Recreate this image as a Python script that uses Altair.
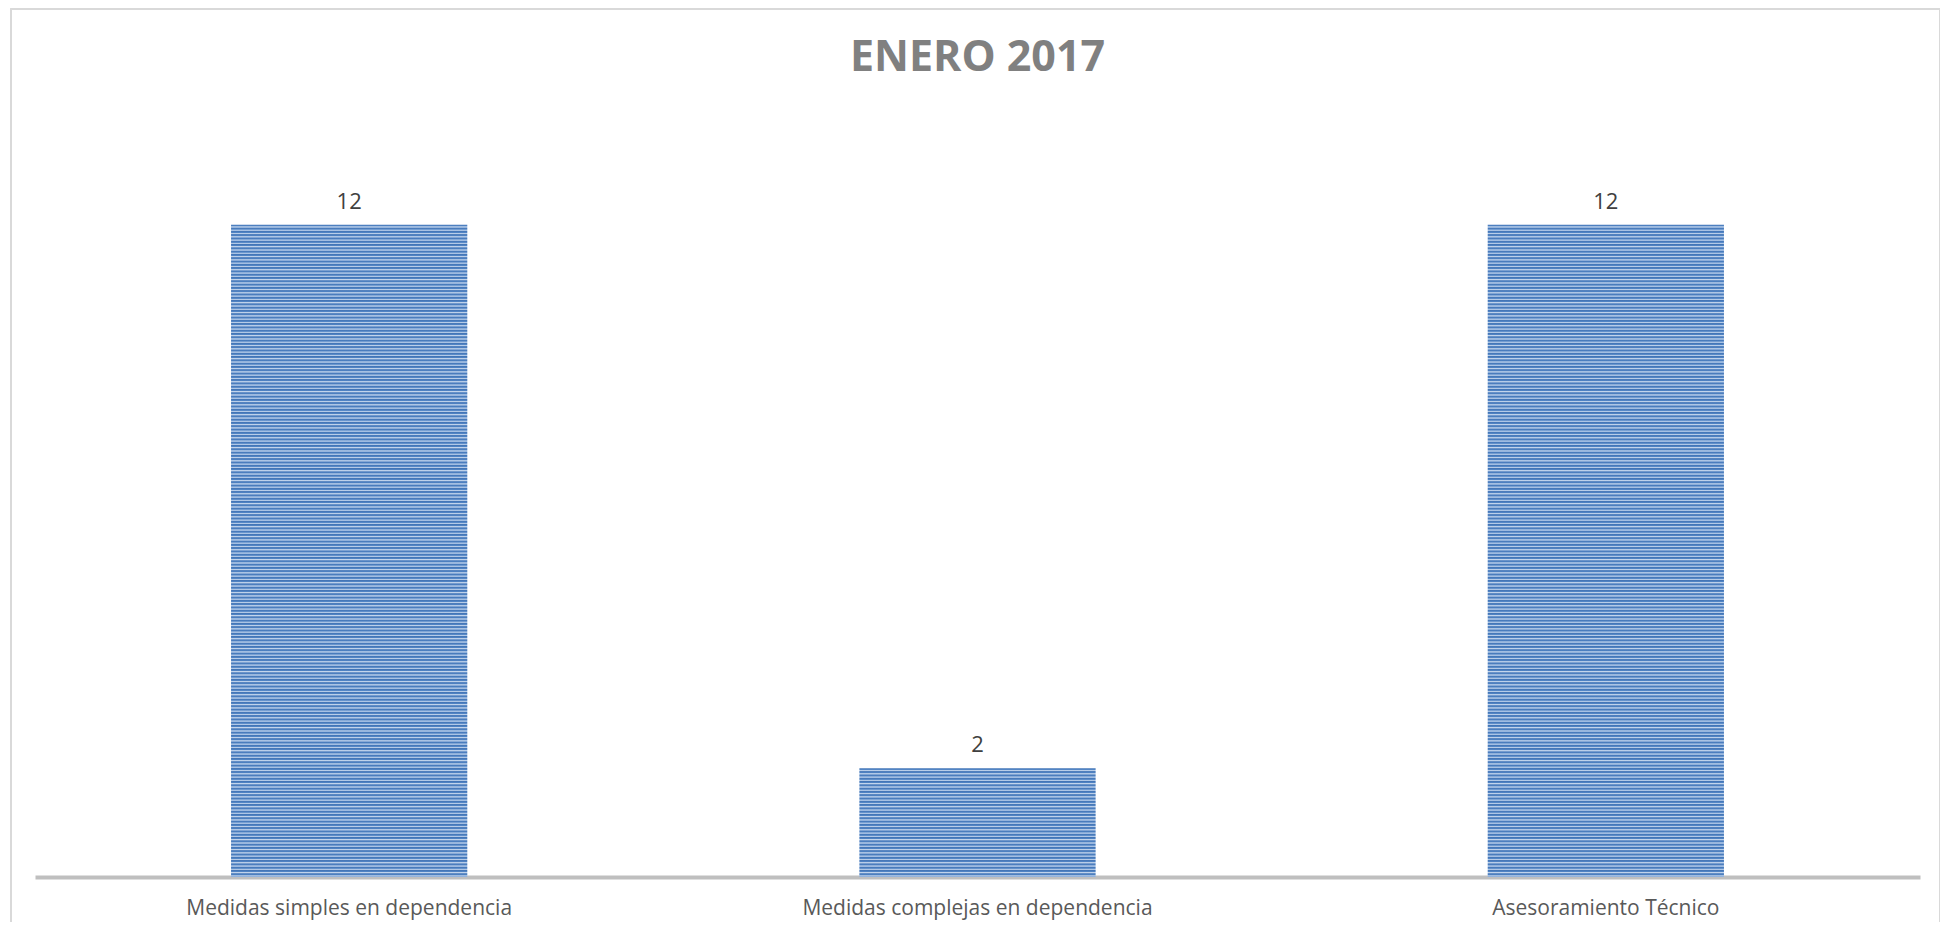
import altair as alt
import pandas as pd

categorias = ["Medidas simples en dependencia", "Medidas complejas en dependencia", "Asesoramiento Técnico"]
valores = [12, 2, 12]
titulo = "ENERO 2017"

df = pd.DataFrame({"categoria": categorias, "valor": valores})

W, H = 1885, 761
STRIPES_PER_UNIT = 16.5


def stripe_gradient(n):
    stops = []
    for i in range(n):
        b = i / n
        s = 1.0 / n
        stops += [
            {"offset": b, "color": "#4375B6"},
            {"offset": b + 0.38 * s, "color": "#5285C5"},
            {"offset": b + 0.62 * s, "color": "#C3D5EC"},
            {"offset": b + 0.84 * s, "color": "#98B6DE"},
        ]
    stops.append({"offset": 1.0, "color": "#4375B6"})
    return {"gradient": "linear", "x1": 0, "y1": 0, "x2": 0, "y2": 1, "stops": stops}


x_enc = alt.X(
    "categoria:N",
    sort=categorias,
    title=None,
    scale=alt.Scale(paddingInner=0.624, paddingOuter=0.312),
    axis=alt.Axis(
        labelAngle=0,
        ticks=False,
        tickSize=0,
        domainColor="#BFBFBF",
        domainWidth=4,
        labelFont="Open Sans",
        labelFontSize=21,
        labelColor="#595959",
        labelBaseline="alphabetic",
        labelPadding=37,
        labelLimit=0,
        grid=False,
    ),
)
y_enc = alt.Y("valor:Q", scale=alt.Scale(domain=[0, 14], nice=False), axis=None, title=None)

base = alt.Chart(df)

layers = []
for v in sorted(set(valores)):
    n = int(round(v * STRIPES_PER_UNIT))
    layers.append(
        base.transform_filter(alt.datum.valor == v)
        .mark_bar(fill=stripe_gradient(n))
        .encode(x=x_enc, y=y_enc)
    )

labels = base.mark_text(
    font="Open Sans", fontSize=22, color="#404040", baseline="alphabetic", dy=-16
).encode(x=alt.X("categoria:N", sort=categorias), y="valor:Q", text="valor:Q")

frame = base.mark_rect(filled=False, stroke="#D9D9D9", strokeWidth=1.5).encode(
    x=alt.value(-24), x2=alt.value(W + 20), y=alt.value(-107), y2=alt.value(H + 60)
)

chart = (
    alt.layer(frame, *layers, labels)
    .properties(
        width=W,
        height=H,
        autosize=alt.AutoSizeParams(type="none"),
        padding={"left": 27, "top": 108, "right": 20, "bottom": 45},
        title=alt.TitleParams(
            titulo,
            font="Open Sans",
            fontSize=43,
            fontWeight="bold",
            color="#808080",
            anchor="middle",
            frame="group",
            baseline="alphabetic",
            offset=-106,
        ),
    )
    .configure_view(stroke=None)
)

chart.save("out.html", embed_options={"renderer": "svg", "actions": False})
